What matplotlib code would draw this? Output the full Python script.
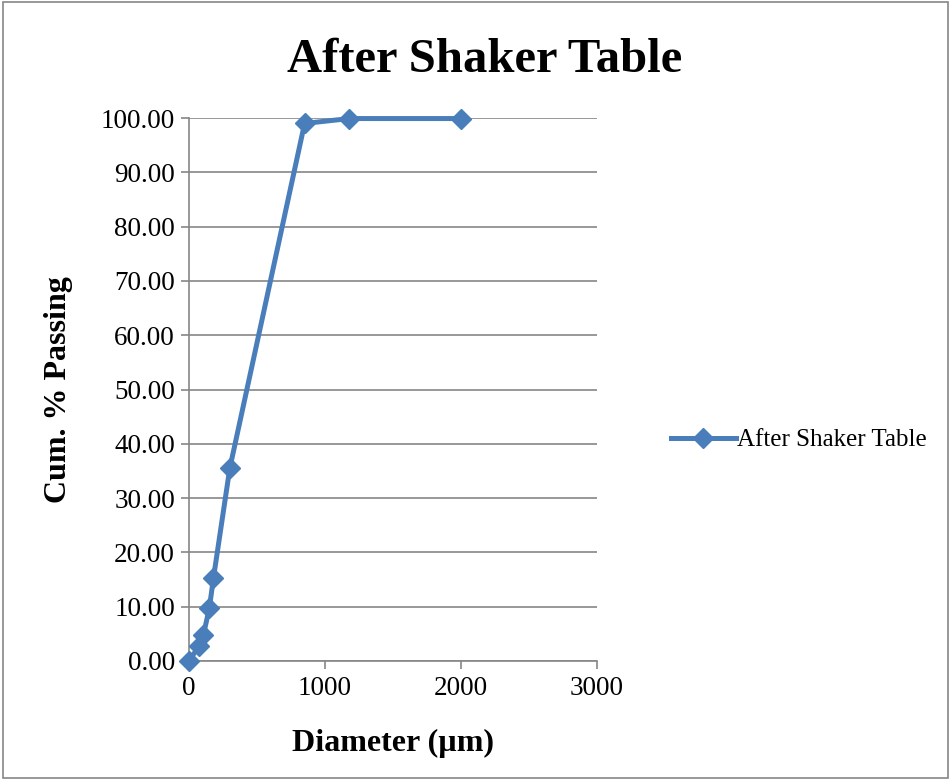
import matplotlib
matplotlib.use('Agg')
import matplotlib.pyplot as plt
from matplotlib.patches import Rectangle

plt.rcParams['font.family'] = ['Liberation Serif', 'DejaVu Serif']

diameter = [0, 75, 106, 150, 180, 300, 850, 1180, 2000]
cum_passing = [0.0, 2.8, 4.8, 9.8, 15.3, 35.5, 99.0, 99.9, 99.9]
series_name = 'After Shaker Table'

fig = plt.figure(figsize=(9.51, 7.8), dpi=100)
ax = fig.add_axes([189 / 951, 1 - 661 / 780, (597 - 189) / 951, (661 - 118) / 780])

ax.plot(diameter, cum_passing, '-D', color='#4a7ebb', lw=3.6, markersize=10,
        label=series_name, clip_on=False, zorder=3)

ax.set_xlim(0, 3000)
ax.set_ylim(0, 100)
ax.set_xticks([0, 1000, 2000, 3000])
ax.set_yticks(range(0, 101, 10))
ax.set_yticklabels([f'{v:.2f}' for v in range(0, 101, 10)])
ax.tick_params(labelsize=19.5, length=6, color='#868686', width=1.2)
ax.tick_params(axis='x', direction='out', pad=5)
ax.tick_params(axis='y', direction='out', pad=4)
ax.yaxis.grid(True, color='#868686', lw=1.2)
ax.set_axisbelow(True)
for s in ['top', 'right']:
    ax.spines[s].set_visible(False)
for s in ['left', 'bottom']:
    ax.spines[s].set_color('#868686')
    ax.spines[s].set_linewidth(1.2)

ax.set_xlabel('Diameter (µm)', fontsize=23, fontweight='bold', labelpad=20)
ax.set_ylabel('Cum. % Passing', fontsize=23, fontweight='bold', labelpad=20)
fig.text(485 / 951, 1 - 60 / 780, 'After Shaker Table', fontsize=35, fontweight='bold',
         ha='center', va='center')

leg = fig.legend(loc='center left', bbox_to_anchor=(648 / 951, 1 - 440 / 780),
                 frameon=False, fontsize=18, handlelength=2.6, handletextpad=0.05)

fig.patches.append(Rectangle((0.003, 0.003), 0.994, 0.994, transform=fig.transFigure,
                             fill=False, edgecolor='#868686', lw=1.2))

fig.savefig('out.png', dpi=100)
